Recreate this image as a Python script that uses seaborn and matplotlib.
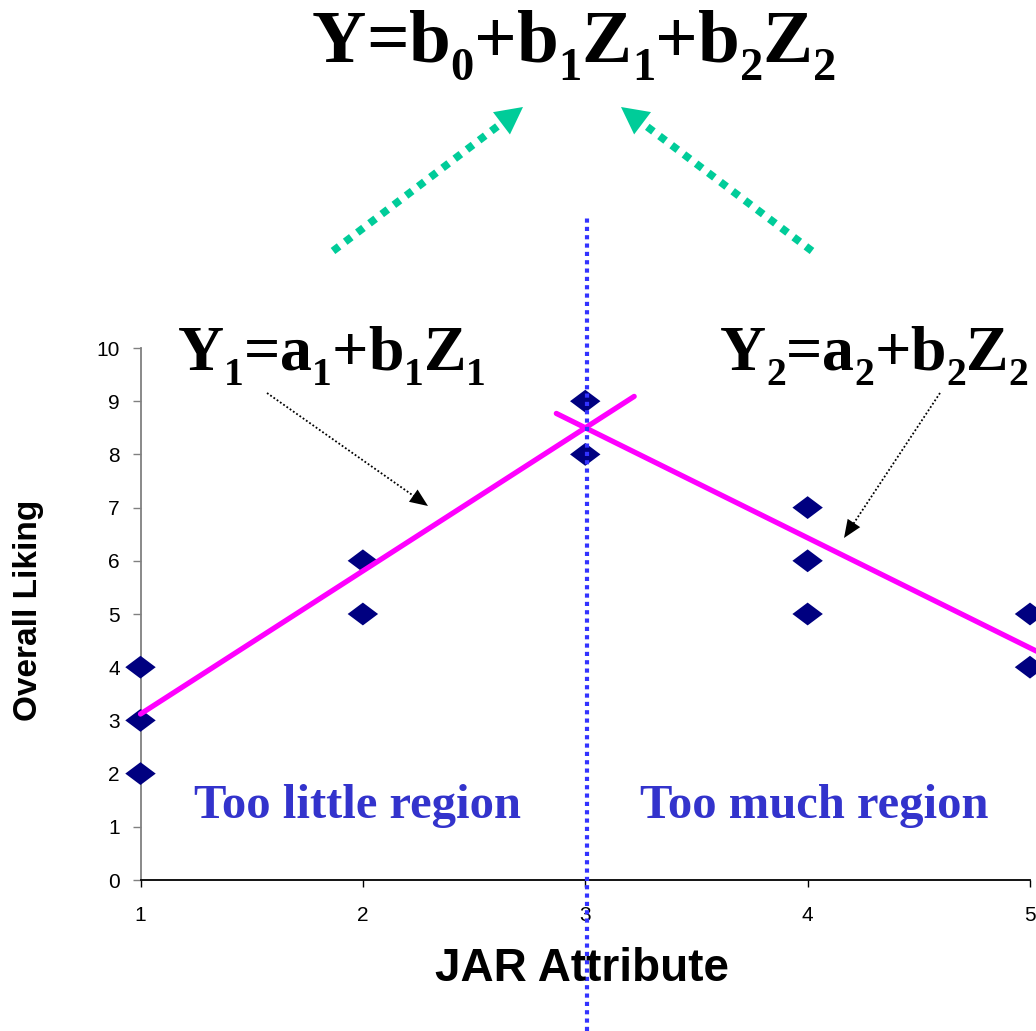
import matplotlib
matplotlib.use('Agg')
import matplotlib.pyplot as plt
import seaborn as sns
import pandas as pd
import numpy as np
from matplotlib.lines import Line2D
from matplotlib.patches import Polygon

# data
jar_attribute = [1, 1, 1, 2, 2, 3, 3, 4, 4, 4, 5, 5]
overall_liking = [2, 3, 4, 5, 6, 8, 9, 5, 6, 7, 4, 5]

# fitted lines (drawn segments)
fit1_x = [1.0, 3.22]
fit1_y = [3.12, 9.09]
fit2_x = [2.87, 5.03]
fit2_y = [8.77, 4.30]

split_x = 3.01
x_ticks = [1, 2, 3, 4, 5]
y_ticks = [0, 1, 2, 3, 4, 5, 6, 7, 8, 9, 10]

sns.set_style('white')
plt.rcParams['font.family'] = ['Liberation Sans', 'DejaVu Sans']
plt.rcParams['text.color'] = 'black'

W, H = 1036, 1031
fig = plt.figure(figsize=(W / 100, H / 100), dpi=100)
ax = fig.add_axes([140.5 / W, 1 - 880 / H, (1030 - 140.5) / W, (880 - 348) / H])


def fx(px):
    return px / W


def fy(py):
    return 1 - py / H


df = pd.DataFrame({'jar': jar_attribute, 'liking': overall_liking})

# diamond wider than tall
diamond = [(-1, 0), (0, 0.75), (1, 0), (0, -0.75), (-1, 0)]
sns.scatterplot(data=df, x='jar', y='liking', ax=ax, marker=diamond, s=480,
                color='#000080', edgecolor='none', clip_on=False, zorder=3)
sns.lineplot(x=fit1_x, y=fit1_y, ax=ax, color='#FF00FF', linewidth=3.8,
             clip_on=False, zorder=4)
sns.lineplot(x=fit2_x, y=fit2_y, ax=ax, color='#FF00FF', linewidth=3.8,
             clip_on=False, zorder=4)

ax.axvline(split_x, ymin=(880 - 1031) / 532, ymax=(880 - 218) / 532,
           color='#3333FF', linewidth=3, linestyle=(0, (1, 1)),
           clip_on=False, zorder=5)

ax.set_xlim(1, 5)
ax.set_ylim(0, 10)
ax.set_xticks(x_ticks)
ax.set_yticks(y_ticks)
ax.tick_params(axis='x', length=5, width=1, color='black', pad=14,
               labelsize=15, labelcolor='black')
ax.tick_params(axis='y', length=6, width=1, color='#808080', pad=9,
               labelsize=15, labelcolor='black')
ax.xaxis.set_ticks_position('bottom')
ax.yaxis.set_ticks_position('left')
for s in ['top', 'right']:
    ax.spines[s].set_visible(False)
ax.spines['left'].set_color('#808080')
ax.spines['bottom'].set_color('black')
ax.spines['left'].set_linewidth(1.3)
ax.spines['bottom'].set_linewidth(1.3)
ax.set_xlabel('')
ax.set_ylabel('')

fig.text(fx(582), fy(969), 'JAR Attribute', ha='center', va='center',
         fontsize=33, fontweight='bold')
fig.text(fx(29), fy(610), 'Overall Liking', ha='center', va='center',
         rotation=90, fontsize=24, fontweight='bold')

renderer = fig.canvas.get_renderer()


def formula(px, py, expr, size, color='black', sub_scale=0.62, sub_drop=0.24):
    # simple chained text: a character after '_' is written as subscript
    x = px
    i = 0
    while i < len(expr):
        ch = expr[i]
        sub = False
        if ch == '_':
            i += 1
            ch = expr[i]
            sub = True
        fs = size * sub_scale if sub else size
        y = py + (size * 100 / 72 * sub_drop if sub else 0)
        t = fig.text(fx(x), fy(y), ch, fontsize=fs, fontweight='bold',
                     family='Liberation Serif', color=color, va='baseline')
        bb = t.get_window_extent(renderer)
        x += bb.width
        i += 1


formula(312, 62, 'Y=b_0+b_1Z_1+b_2Z_2', 54)
formula(178, 370, 'Y_1=a_1+b_1Z_1', 46)
formula(720, 370, 'Y_2=a_2+b_2Z_2', 46)

fig.text(fx(194), fy(818), 'Too little region', fontsize=35, fontweight='bold',
         family='Liberation Serif', color='#3333CC', va='baseline')
fig.text(fx(640), fy(818), 'Too much region', fontsize=35, fontweight='bold',
         family='Liberation Serif', color='#3333CC', va='baseline')


def dotted_arrow(p0, p1, color, lw, head_len, head_w, dots):
    # dotted shaft plus a solid triangular head, all in figure pixels
    p0 = np.array(p0, float)
    p1 = np.array(p1, float)
    u = (p1 - p0) / np.linalg.norm(p1 - p0)
    n = np.array([-u[1], u[0]])
    base = p1 - u * head_len
    shaft_end = p1 - u * head_len * 0.6
    fig.add_artist(Line2D([fx(p0[0]), fx(shaft_end[0])], [fy(p0[1]), fy(shaft_end[1])],
                          color=color, lw=lw, linestyle=(0, dots),
                          dash_capstyle='butt'))
    tri = [p1, base + n * head_w / 2, base - n * head_w / 2]
    fig.add_artist(Polygon([(fx(q[0]), fy(q[1])) for q in tri], closed=True,
                           facecolor=color, edgecolor='none'))


# green arrows towards the combined model
dotted_arrow((333, 251), (523, 107), '#00CC99', 5.5, 27, 28, (1, 1))
dotted_arrow((812, 251), (621, 107), '#00CC99', 5.5, 27, 28, (1, 1))

# small pointer arrows from the labels to the lines
dotted_arrow((267, 393), (428, 506), 'black', 1.3, 18, 15, (1, 1.2))
dotted_arrow((940, 393), (844, 538), 'black', 1.3, 18, 15, (1, 1.2))

fig.savefig('out.png', dpi=100, facecolor='white')
plt.close(fig)
